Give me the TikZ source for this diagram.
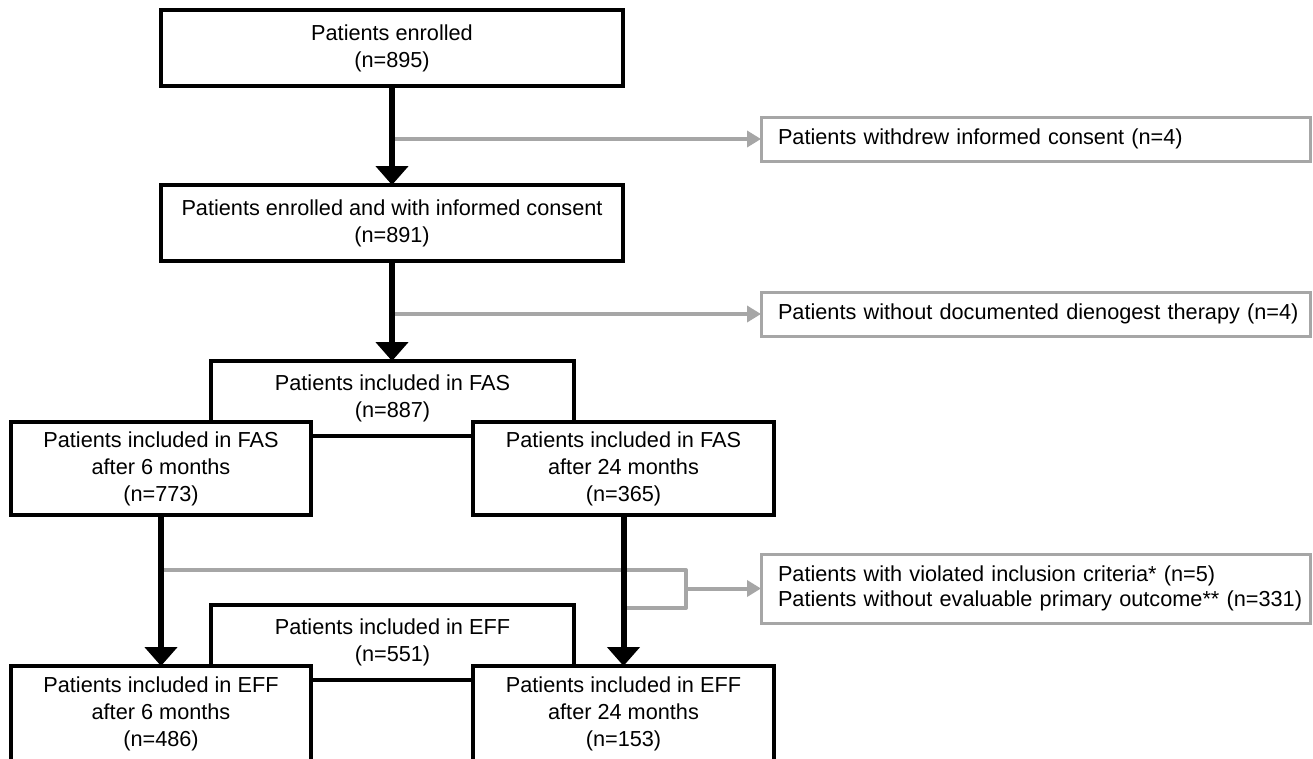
\documentclass[tikz,border=0pt]{standalone}
\usepackage{fontspec}
\setmainfont{Liberation Sans}
\usetikzlibrary{arrows.meta}
\definecolor{grayc}{HTML}{A6A6A6}
\begin{document}
\begin{tikzpicture}[x=1pt,y=-1pt,
  every node/.style={outer sep=0pt, inner sep=0pt},
  txt/.style={font=\fontsize{21.7}{27}\selectfont},
  bbox/.style={txt, draw=black, line width=3.5pt, fill=white, align=center},
  gbox/.style={txt, draw=grayc, line width=3pt, fill=white, align=left, text width=515pt, inner xsep=17pt},
  blkarrow/.style={draw=black, line width=6pt, -{Triangle[width=32pt,length=19pt]}},
  grayline/.style={draw=grayc, line width=4pt, line join=round},
  grayarrow/.style={grayline, -{Triangle[width=16pt,length=14pt]}}
]
\clip (0,0) rectangle (1313,758);
\fill[white] (0,0) rectangle (1313,758);

% main column
\node[bbox, minimum width=462pt, minimum height=76pt] (b1) at (392,48) {Patients enrolled\\(n=895)};
\node[bbox, minimum width=462pt, minimum height=76pt] (b2) at (392,223) {Patients enrolled and with informed consent\\(n=891)};

% FAS group
\node[bbox, minimum width=363pt, minimum height=75pt] (fas) at (392.5,398.5) {Patients included in FAS\\(n=887)};
\node[bbox, minimum width=300pt, minimum height=93pt] (fas6) at (161,468.5) {Patients included in FAS\\after 6 months\\(n=773)};
\node[bbox, minimum width=301pt, minimum height=93pt] (fas24) at (623.5,468.5) {Patients included in FAS\\after 24 months\\(n=365)};

% EFF group
\node[bbox, minimum width=363pt, minimum height=75pt] (eff) at (392.5,642.5) {Patients included in EFF\\(n=551)};
\node[bbox, minimum width=300pt, minimum height=96pt] (eff6) at (161,714) {Patients included in EFF\\after 6 months\\(n=486)};
\node[bbox, minimum width=301pt, minimum height=96pt] (eff24) at (623.5,714) {Patients included in EFF\\after 24 months\\(n=153)};

% exclusion boxes
\node[gbox, minimum height=44pt] (g1) at (1035.5,139) {\mbox{Patients withdrew informed consent (n=4)}};
\node[gbox, minimum height=44pt] (g2) at (1035.5,314) {\mbox{Patients without documented dienogest therapy (n=4)}};
\node[gbox, minimum height=69pt, font=\fontsize{21.7}{25}\selectfont] (g3) at (1035.5,588.5) {\mbox{Patients with violated inclusion criteria* (n=5)}\\\mbox{Patients without evaluable primary outcome** (n=331)}};

% gray branches
\draw[grayarrow] (b1.south |- g1.west) -- (g1.west);
\draw[grayarrow] (b2.south |- g2.west) -- (g2.west);
\coordinate (jt) at (686,570);
\coordinate (jb) at (686,608);
\coordinate (jm) at (686,588.5);
\draw[grayline] (fas6.south |- jt) -- (jt) -- (jb) -- (fas24.south |- jb);
\draw[grayarrow] (jm) -- (g3.west);

% black arrows
\draw[blkarrow] (b1.south) -- (b2.north);
\draw[blkarrow] (b2.south) -- (b2.south |- fas.north);
\draw[blkarrow] (fas6.south) -- (eff6.north);
\draw[blkarrow] (fas24.south) -- (eff24.north);
\end{tikzpicture}
\end{document}
